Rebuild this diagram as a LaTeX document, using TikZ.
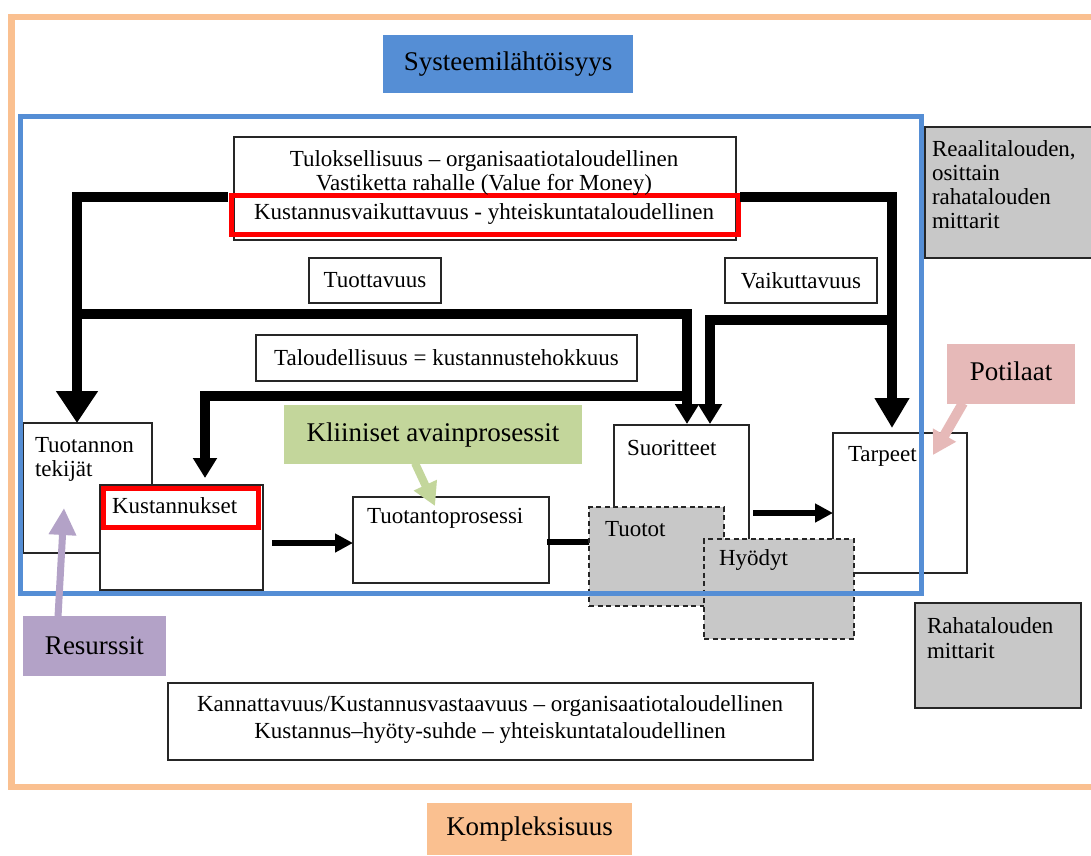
\documentclass[tikz,border=0pt]{standalone}
\usepackage{fontspec}
\setmainfont{Liberation Serif}
\usetikzlibrary{arrows.meta,calc}
\definecolor{orangeF}{HTML}{FAC090}
\definecolor{blueF}{HTML}{558ED5}
\definecolor{greenF}{HTML}{C3D69B}
\definecolor{pinkF}{HTML}{E6B9B8}
\definecolor{purpleF}{HTML}{B3A2C7}
\definecolor{grayF}{HTML}{C8C8C8}
\definecolor{edge}{HTML}{262626}
\begin{document}
\begin{tikzpicture}[x=1pt,y=-1pt,
  every node/.style={font=\fontsize{23}{25}\selectfont, inner sep=0pt, outer sep=0pt},
  big/.style={font=\fontsize{27}{29}\selectfont},
  box/.style={draw=edge, line width=1.4pt, fill=white, anchor=north west},
  graybox/.style={draw=edge, line width=1.4pt, fill=grayF, anchor=north west},
  dashbox/.style={draw=edge, line width=1.4pt, fill=grayF, anchor=north west, dash pattern=on 5pt off 3.5pt},
  redbox/.style={draw=red, line width=5pt, anchor=north west},
  callout/.style={anchor=north west, big},
  txt/.style={anchor=base west},
  ctxt/.style={anchor=base},
  bigline/.style={line width=9.5pt, draw=black},
  bigarrowL/.style={bigline, -{Triangle[width=40pt,length=32pt]}},
  bigarrowR/.style={bigline, -{Triangle[width=33pt,length=30pt]}},
  midarrow/.style={bigline, -{Triangle[width=23pt,length=20pt]}},
  thinline/.style={line width=6pt, draw=black},
  thinarrow/.style={thinline, -{Triangle[width=18pt,length=18pt]}},
]
\useasboundingbox (0,0) rectangle (1091,855);
\fill[white] (0,0) rectangle (1091,855);

% outer orange frame
\draw[orangeF, line width=6.5pt] (1100,17) -- (11.5,17) -- (11.5,787) -- (1100,787);

% title boxes
\node[callout, fill=blueF, minimum width=250pt, minimum height=58pt] (sys) at (383,35) {Systeemilähtöisyys};
\node[callout, fill=orangeF, minimum width=205pt, minimum height=52pt] (komp) at (427,803) {Kompleksisuus};

% top box
\node[box, minimum width=502pt, minimum height=103pt] (top) at (234,137) {};
\node[redbox, minimum width=507pt, minimum height=39pt] (red) at (231,195) {};
\node[ctxt] (t1) at (484,166) {Tuloksellisuus – organisaatiotaloudellinen};
\node[ctxt] (t2) at (484,190) {Vastiketta rahalle (Value for Money)};
\node[ctxt] (t3) at (484,219) {Kustannusvaikuttavuus - yhteiskuntataloudellinen};

\node[box, minimum width=132pt, minimum height=45pt] (tuott) at (309,258) {Tuottavuus};
\node[box, minimum width=152pt, minimum height=45pt] (vaik) at (725,258) {Vaikuttavuus};
\node[box, minimum width=381pt, minimum height=46pt] (talo) at (256,335) {Taloudellisuus = kustannustehokkuus};

% lower boxes
\node[box, minimum width=129pt, minimum height=130pt] (tekijat) at (23,423) {};
\node[txt] (tek1) at (35,452) {Tuotannon};
\node[txt] (tek2) at (35,476) {tekijät};

\node[box, minimum width=163pt, minimum height=105pt] (kust) at (100,485) {};
\node[redbox, minimum width=155pt, minimum height=39pt] (kustred) at (103,488) {};
\node[txt] (kusttxt) at (112,513) {Kustannukset};

\node[box, minimum width=196pt, minimum height=86pt] (tproc) at (353,497) {};
\node[txt] (tproctxt) at (367,523) {Tuotantoprosessi};

\node[callout, fill=greenF, minimum width=298pt, minimum height=59pt] (klin) at (284,405) {\raisebox{1pt}{Kliiniset avainprosessit}};

\node[box, minimum width=135pt, minimum height=135pt] (suor) at (614,425) {};
\node[txt] (suortxt) at (627,455) {Suoritteet};

\node[box, minimum width=134pt, minimum height=140pt] (tarp) at (833,433) {};
\node[txt] (tarptxt) at (848,461) {Tarpeet};

% connectors
\draw[bigarrowL] ($(red.north west)+(-3,2)$) -| ($(tekijat.north west)+(54,0)$);
\coordinate (bL) at ($(tekijat.north west)+(54,-109)$);
\draw[midarrow] (bL) -| ($(suor.north west)+(73,-1)$);
\coordinate (bT) at ($(suor.north west)+(73,-29)$);
\draw[midarrow] (bT) -| ($(kust.north west)+(105,-7)$);
\draw[bigarrowR] ($(red.north east)+(2,2)$) -| ($(tarp.north west)+(59,-5)$);
\coordinate (bR) at ($(tarp.north west)+(59,-113)$);
\draw[midarrow] (bR) -| ($(suor.north west)+(96,-1)$);

\draw[thinarrow] ($(kust.east)+(9,5.5)$) -- ($(tproc.west)+(0,3)$);
\draw[thinline] ($(tproc.east)+(-2,2)$) -- ($(suor.west)+(-25,49.5)$) coordinate (pe);
\draw[thinarrow] ($(suor.east)+(4,20.5)$) -- ($(tarp.west)+(0,10)$);

% gray outcome boxes
\node[dashbox, minimum width=135pt, minimum height=99pt] (tuotot) at (589,507) {};
\node[txt] (tuotottxt) at (605,536) {Tuotot};
\node[dashbox, minimum width=150pt, minimum height=100pt] (hyod) at (704,539) {};
\node[txt] (hyodtxt) at (719,565) {Hyödyt};

% right side boxes
\node[graybox, minimum width=175pt, minimum height=131pt] (reaal) at (925,127) {};
\node[txt] (re1) at (932,156) {Reaalitalouden,};
\node[txt] (re2) at (932,180) {osittain};
\node[txt] (re3) at (932,204) {rahatalouden};
\node[txt] (re4) at (932,228) {mittarit};

\node[graybox, minimum width=166pt, minimum height=105pt] (raha) at (915,603) {};
\node[txt] (ra1) at (927,633) {Rahatalouden};
\node[txt] (ra2) at (927,658) {mittarit};

\node[callout, fill=pinkF, minimum width=128pt, minimum height=60pt] (pot) at (947,344) {\raisebox{5pt}{Potilaat}};

% bottom box
\node[box, minimum width=645pt, minimum height=77pt] (bottom) at (168,683) {};
\node[ctxt] (b1) at (490,711) {Kannattavuus/Kustannusvastaavuus – organisaatiotaloudellinen};
\node[ctxt] (b2) at (490,738) {Kustannus–hyöty-suhde – yhteiskuntataloudellinen};

% blue system frame
\draw[blueF, line width=5pt] (20,116) rectangle (921,593);

% resources
\node[callout, fill=purpleF, minimum width=143pt, minimum height=60pt] (res) at (23,616) {Resurssit};

% callout arrows
\draw[greenF, line width=8pt, -{Triangle[width=24pt,length=23pt]}] ($(klin.south west)+(131,-1)$) -- ($(tproc.north west)+(82,9)$);
\draw[pinkF, line width=10pt, -{Triangle[width=25pt,length=23pt]}] ($(pot.south west)+(16,-1)$) -- ($(tarp.north east)+(-34,22)$);
\draw[purpleF, line width=7pt, -{Triangle[width=26pt,length=27pt]}] ($(res.north west)+(35,1)$) -- ($(tekijat.south west)+(41,-45)$);
\end{tikzpicture}
\end{document}
